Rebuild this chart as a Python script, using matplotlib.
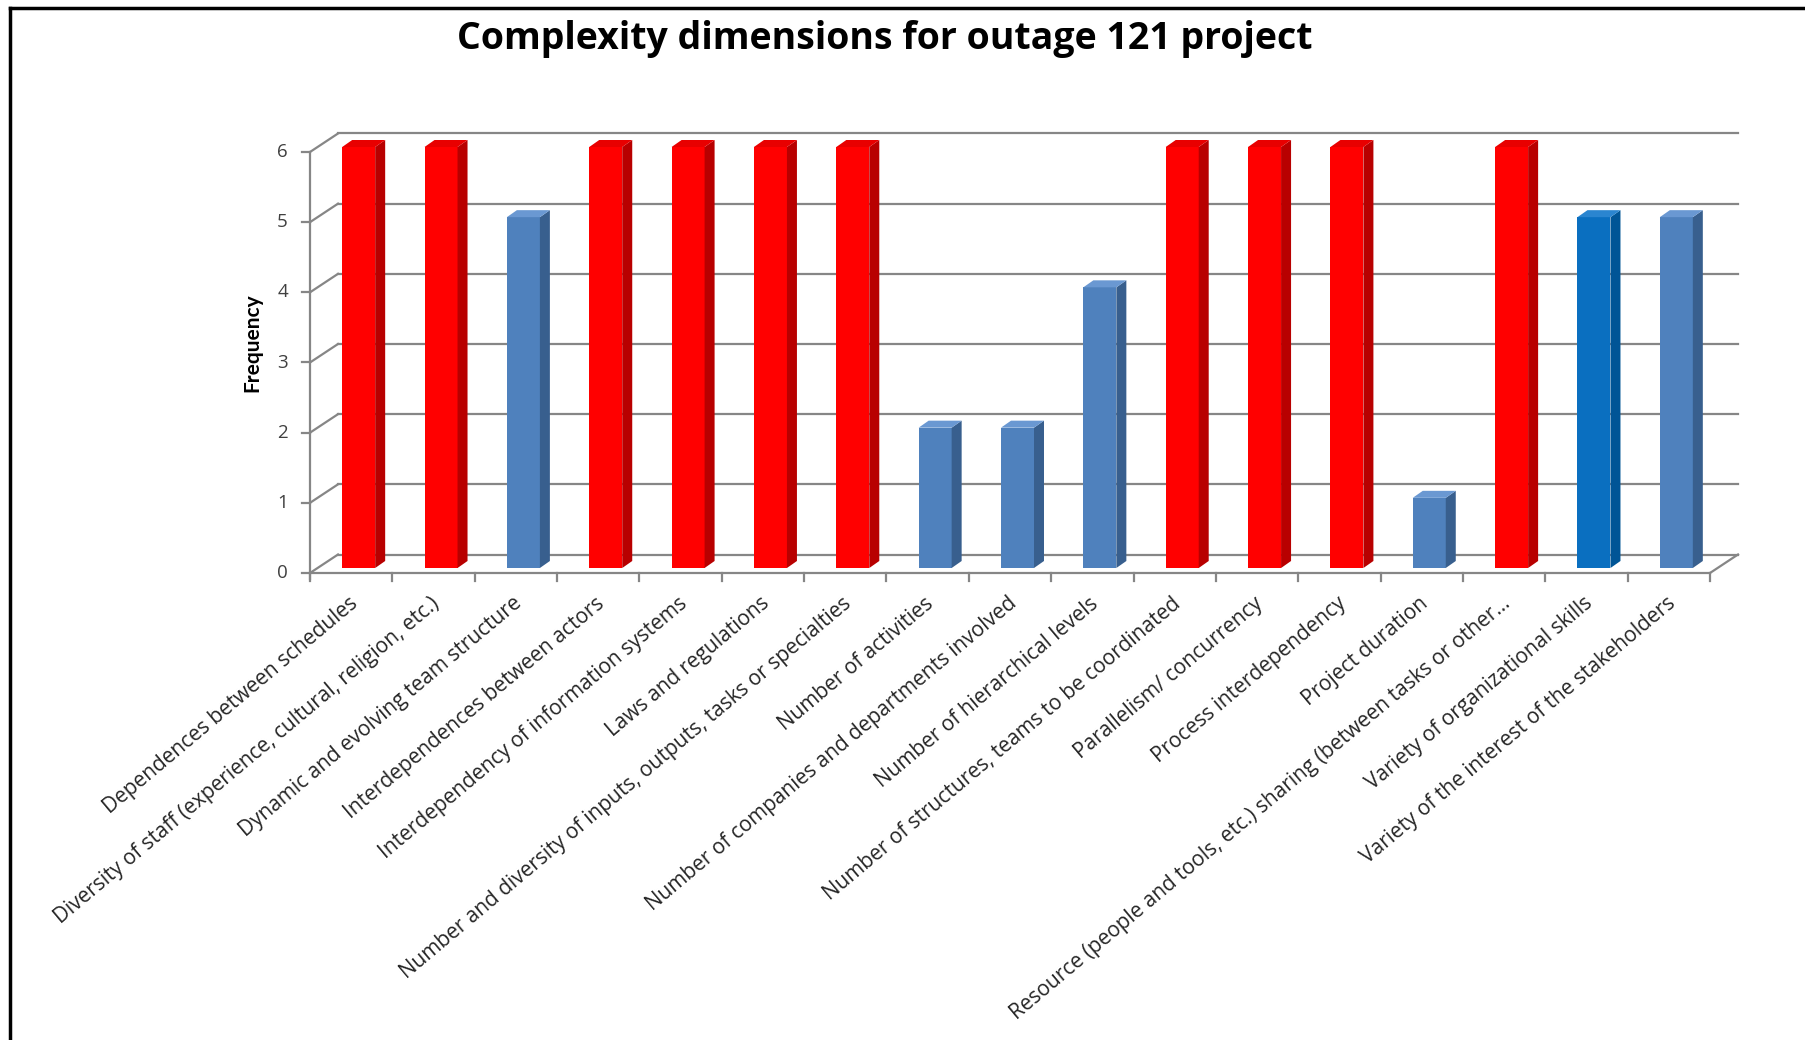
import matplotlib
matplotlib.use("Agg")
import matplotlib.pyplot as plt
from matplotlib.patches import Polygon
from matplotlib.lines import Line2D

plt.rcParams['font.family'] = ['Open Sans', 'DejaVu Sans']

title = "Complexity dimensions for outage 121 project"
y_label = "Frequency"
categories = [
    "Dependences between schedules",
    "Diversity of staff (experience, cultural, religion, etc.)",
    "Dynamic and evolving team structure",
    "Interdependences between actors",
    "Interdependency of information systems",
    "Laws and regulations",
    "Number and diversity of inputs, outputs, tasks or specialties",
    "Number of activities",
    "Number of companies and departments involved",
    "Number of hierarchical levels",
    "Number of structures, teams to be coordinated",
    "Parallelism/ concurrency",
    "Process interdependency",
    "Project duration",
    "Resource (people and tools, etc.) sharing (between tasks or other...",
    "Variety of organizational skills",
    "Variety of the interest of the stakeholders",
]
values = [6, 6, 5, 6, 6, 6, 6, 2, 2, 4, 6, 6, 6, 1, 6, 5, 5]
# colour group of each bar: 'r' red, 'b' blue, 'd' darker blue
groups = ['r', 'r', 'b', 'r', 'r', 'r', 'r', 'b', 'b', 'b', 'r', 'r', 'r', 'b', 'r', 'd', 'b']
y_ticks = [0, 1, 2, 3, 4, 5, 6]

palette = {
    'r': ('#FF0000', '#B80000', '#E80000'),
    'b': ('#4F81BD', '#385F8E', '#6A98D2'),
    'd': ('#0A6FC0', '#005596', '#2A85D0'),
}

W, H, DPI = 1805, 1040, 100
fig = plt.figure(figsize=(W / DPI, H / DPI), dpi=DPI)
fig.patch.set_facecolor('white')

# front plane of the plot in pixels
L, R, B0, T6 = 310, 1710, 573, 152
ax = fig.add_axes([L / W, (H - B0) / H, (R - L) / W, (B0 - T6) / H])
n = len(categories)
ymax = max(y_ticks)
ax.set_xlim(0, n)
ax.set_ylim(0, ymax)
ax.axis('off')

pxx = (R - L) / n        # px per category
pxy = (B0 - T6) / ymax   # px per unit
# depth of the floor (px) in data units
DX, DY = 28 / pxx, 18.5 / pxy
grid_c = '#868686'
lw = 1.6

# back wall gridlines + left wall diagonals + y ticks
for k in y_ticks:
    ax.add_line(Line2D([DX, n + DX], [k + DY, k + DY], color=grid_c, lw=lw, zorder=1, clip_on=False))
    ax.add_line(Line2D([0, DX], [k, k + DY], color=grid_c, lw=lw, zorder=1, clip_on=False))
    ax.add_line(Line2D([-8 / pxx, 0], [k, k], color=grid_c, lw=lw, zorder=1, clip_on=False))
    ax.text(-22 / pxx, k, str(k), ha='right', va='center', fontsize=13.5, color='#404040')

# front axis lines
ax.add_line(Line2D([0, 0], [-6 / pxy, ymax], color=grid_c, lw=lw, zorder=1, clip_on=False))
ax.add_line(Line2D([0, n], [0, 0], color=grid_c, lw=lw, zorder=1, clip_on=False))
ax.add_line(Line2D([n, n + DX], [0, DY], color=grid_c, lw=lw, zorder=1, clip_on=False))
for i in range(n + 1):
    ax.add_line(Line2D([i, i], [0, -8 / pxy], color=grid_c, lw=lw, zorder=1, clip_on=False))

# bars (pseudo 3-D)
bw = 33 / pxx
ox, oy = 7.5 / pxx, 5 / pxy
sx, sy = 10 / pxx, 7 / pxy
centers = [i + 0.5 + ox for i in range(n)]
fronts = [palette[g][0] for g in groups]
bars = ax.bar(centers, values, width=bw, bottom=oy, color=fronts, linewidth=0, zorder=3)
for b in bars:
    b.set_clip_on(False)
for c, v, g in zip(centers, values, groups):
    x0, x1 = c - bw / 2, c + bw / 2
    side = Polygon([(x1, oy), (x1 + sx, oy + sy), (x1 + sx, oy + v + sy), (x1, oy + v)],
                   closed=True, facecolor=palette[g][1], edgecolor='none', zorder=3, clip_on=False)
    top = Polygon([(x0, oy + v), (x1, oy + v), (x1 + sx, oy + v + sy), (x0 + sx, oy + v + sy)],
                  closed=True, facecolor=palette[g][2], edgecolor='none', zorder=3, clip_on=False)
    ax.add_patch(side)
    ax.add_patch(top)

# category labels
for i, lab in enumerate(categories):
    ax.text(i + 0.5 - 3 / pxx, -20 / pxy, lab, rotation=40, rotation_mode='anchor',
            ha='right', va='top', fontsize=15, color='#262626')

# y label
fig.text(252 / W, 1 - 343 / H, y_label, rotation=90, ha='center', va='center',
         fontsize=15, fontweight='bold', color='black', family=['Lato', 'DejaVu Sans'])

# title
fig.text(885 / W, 1 - 39 / H, title, ha='center', va='center',
         fontsize=27, fontweight='bold', color='black')

# frame (top and left edges)
fig.add_artist(Line2D([10 / W, 1], [1 - 8 / H, 1 - 8 / H], color='black', lw=2.5, transform=fig.transFigure))
fig.add_artist(Line2D([10 / W, 10 / W], [0, 1 - 8 / H], color='black', lw=2.5, transform=fig.transFigure))

fig.savefig('out.png', dpi=DPI, facecolor='white')
